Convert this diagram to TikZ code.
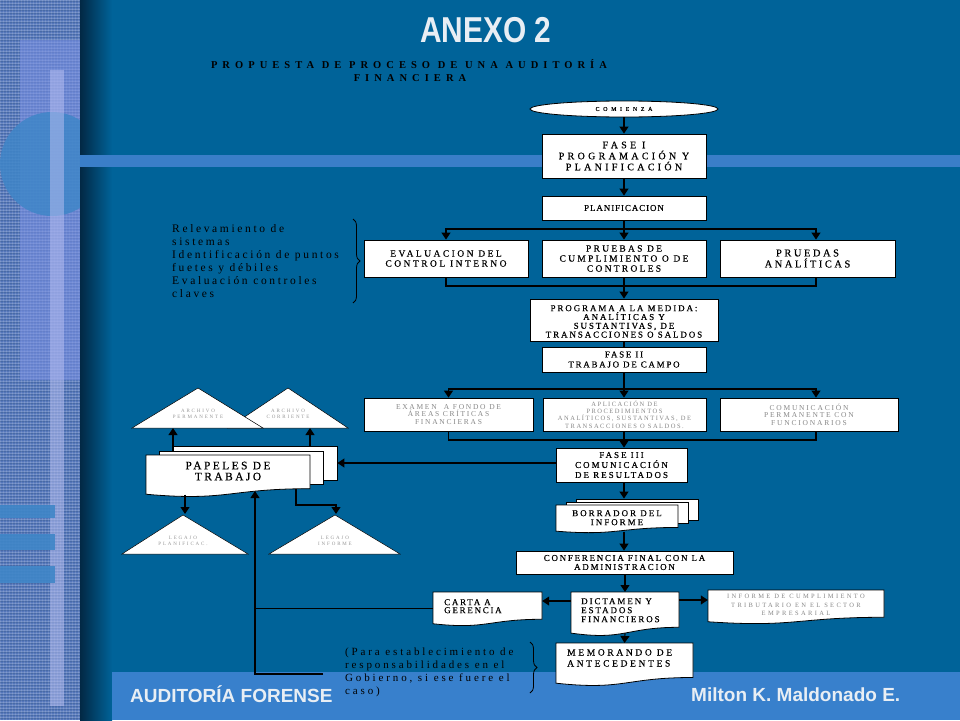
\documentclass[tikz,border=0pt]{standalone}
\usepackage{graphicx}
\usepackage{fontspec}
\setmainfont{Liberation Serif}
\newfontfamily\hfont{Liberation Sans}
\usetikzlibrary{arrows.meta,shapes.geometric,decorations.pathreplacing}
\definecolor{mainblue}{RGB}{0,99,153}
\definecolor{bandblue}{RGB}{58,126,200}
\definecolor{footblue}{RGB}{56,128,204}
\definecolor{shadowblue}{RGB}{2,40,68}
\definecolor{texblue}{RGB}{84,118,186}
\definecolor{rectblue}{RGB}{124,146,230}
\definecolor{circblue}{RGB}{63,134,200}
\definecolor{barlight}{RGB}{180,188,240}
\definecolor{titlewhite}{RGB}{232,238,244}
\definecolor{txtgray}{RGB}{135,135,135}
\definecolor{trigray}{RGB}{150,150,150}
\newcommand\txf[3]{\fontsize{#1}{#2}\selectfont\addfontfeatures{LetterSpace=#3}}
\newcommand\txb[3]{\fontsize{#1}{#2}\selectfont\addfontfeatures{LetterSpace=#3,FakeBold=0.4}}
\newcommand\docshape[5]{%
  \draw[doc] (#2,#3) -- (#4,#3) -- (#4,{#3+0.802*#5}) .. controls ({(#2+#4)/2},{#3+0.802*#5}) and ({(#2+#4)/2},{#3+1.1075*#5}) .. (#2,{#3+0.934*#5}) -- cycle;
  \node[inner sep=0pt, minimum width={(#4-#2)*1pt}, minimum height={0.933*#5*1pt}, anchor=north] (#1) at ({(#2+#4)/2},#3) {};
}
\begin{document}
\begin{tikzpicture}[x=1pt,y=-1pt,
  box/.style={draw=black, line width=0.8pt, fill=white, inner sep=0pt, align=center},
  doc/.style={draw=black, line width=0.8pt, fill=white},
  ln/.style={line width=1.1pt},
  arr/.style={line width=1.1pt, -{Triangle[width=9pt,length=7pt]}},
  tri/.style={draw=black, line width=0.5pt, fill=white},
  brc/.style={decorate, decoration={brace, amplitude=7pt}, line width=0.8pt},
  ttxt/.style={text=trigray, align=center, inner sep=0pt, font={\txf{5}{6}{37}}},
]
\useasboundingbox (0,0) rectangle (960,720);
\fill[mainblue] (0,0) rectangle (960,720);
% ---------- left textured strip
\begin{scope}
  \clip (0,0) rectangle (80,720);
  \fill[texblue] (0,0) rectangle (80,720);
  \foreach \i in {0,3,...,720} \draw[white, opacity=0.16, line width=0.7pt] (0,\i) -- (80,\i);
  \foreach \i in {0,3,...,80} \draw[white, opacity=0.13, line width=0.7pt] (\i,0) -- (\i,720);
  \foreach \i in {1.5,4.5,...,720} \draw[shadowblue, opacity=0.15, line width=0.6pt] (0,\i) -- (80,\i);
  \fill[rectblue, opacity=0.55] (20,40) rectangle (80,380);
  \fill[circblue, opacity=0.85] (52,164) circle [radius=52];
  \fill[barlight, opacity=0.55] (50,70) rectangle (64,706);
  \fill[circblue, opacity=0.9] (0,505) rectangle (55,518);
  \fill[circblue, opacity=0.9] (0,534) rectangle (55,550);
  \fill[circblue, opacity=0.9] (0,566) rectangle (55,583);
\end{scope}
\shade[left color=shadowblue, right color=mainblue] (80,0) rectangle (112,720);
\fill[bandblue] (80,155) rectangle (960,167);
\fill[footblue] (112,672) rectangle (960,720);
% ---------- titles
\node[anchor=base, inner sep=0pt, text=titlewhite, font={\hfont\bfseries\fontsize{36}{40}\selectfont}] (title) at (486,42) {\scalebox{0.83}[1]{ANEXO 2}};
\node[anchor=base, inner sep=0pt, font={\bfseries\txf{10.5}{12}{48}}] (sub1) at (409,68) {PROPUESTA DE PROCESO DE UNA AUDITORÍA};
\node[anchor=base, inner sep=0pt, font={\bfseries\txf{10.5}{12}{48}}] (sub2) at (410,81) {FINANCIERA};
\node[anchor=base west, inner sep=0pt, text=titlewhite, font={\hfont\bfseries\fontsize{19}{22}\selectfont}] (ft1) at (130,702) {AUDITORÍA FORENSE};
\node[anchor=base west, inner sep=0pt, text=titlewhite, font={\hfont\bfseries\fontsize{19}{22}\selectfont}] (ft2) at (691,701) {Milton K. Maldonado E.};
% ---------- flow: phase I
\node[box, ellipse, minimum width=188pt, minimum height=16pt, font={\txb{6}{7}{60}}] (start) at (624,109) {COMIENZA};
\node[box, minimum width=164pt, minimum height=44pt, font={\txb{10}{11}{33}}] (f1) at (624,156) {FASE I\\PROGRAMACIÓN Y\\PLANIFICACIÓN};
\node[box, minimum width=164pt, minimum height=24pt, font={\txb{9}{10}{10}}] (pl) at (624,208) {PLANIFICACION};
\node[box, minimum width=164pt, minimum height=37pt, font={\txb{9.5}{10}{26}}] (ev) at (446,258.5) {EVALUACION DEL\\CONTROL INTERNO};
\node[box, minimum width=164pt, minimum height=37pt, font={\txb{9.5}{10}{24}}] (pc) at (624,258.5) {PRUEBAS DE\\CUMPLIMIENTO O DE\\CONTROLES};
\node[box, minimum width=175pt, minimum height=37pt, font={\txb{10.5}{11}{24}}] (pa) at (807.5,258.5) {PRUEDAS\\ANALÍTICAS};
\node[box, minimum width=188pt, minimum height=42pt] (prog) at (624,320) {};
\begin{scope}
  \clip (530,299) rectangle (718,341);
  \node[anchor=north, inner sep=0pt, align=center, font={\txb{9}{8.8}{21}}] (progtxt) at (624,305) {PROGRAMA A LA MEDIDA:\\ANALÍTICAS Y\\SUSTANTIVAS, DE\\TRANSACCIONES O SALDOS};
\end{scope}
\node[box, minimum width=164pt, minimum height=25pt, font={\txb{9}{10}{19}}] (f2) at (624,359.5) {FASE II\\TRABAJO DE CAMPO};
% phase II row
\node[box, text=txtgray, minimum width=169pt, minimum height=33pt, font={\txf{7.5}{7.5}{23}}] (ex) at (448.5,414.5) {EXAMEN\ \ A FONDO DE\\ÁREAS CRÍTICAS\\FINANCIERAS};
\node[box, text=txtgray, minimum width=163pt, minimum height=33pt, font={\txf{6.5}{7.4}{23}}] (ap) at (624.5,414.5) {APLICACIÓN DE\\PROCEDIMIENTOS\\ANALÍTICOS, SUSTANTIVAS, DE\\TRANSACCIONES O SALDOS.};
\node[box, text=txtgray, minimum width=178pt, minimum height=33pt, font={\txf{7.5}{7.5}{24}}] (co) at (809,414.5) {COMUNICACIÓN\\PERMANENTE CON\\FUNCIONARIOS};
\node[box, minimum width=131pt, minimum height=34pt, font={\txb{9}{10}{22}}] (f3) at (621.5,465) {FASE III\\COMUNICACIÓN\\DE RESULTADOS};
% borrador stack
\node[box, minimum width=122pt, minimum height=21pt] (b3) at (637,509.5) {};
\node[box, minimum width=122pt, minimum height=21pt] (b2) at (627,512.5) {};
\docshape{bo}{556}{505}{678}{28}
\node[anchor=north, inner sep=0pt, align=center, font={\txb{9}{9}{22}}] (botxt) at (617,510) {BORRADOR DEL\\INFORME};
\node[box, minimum width=217pt, minimum height=23pt, font={\txb{9}{9}{19}}] (cf) at (624.5,562.5) {CONFERENCIA FINAL CON LA\\ADMINISTRACION};
% final documents
\docshape{ca}{433}{592}{542}{34}
\docshape{dc}{571}{592}{679}{44}
\docshape{inf}{708}{590}{884}{34}
\docshape{me}{556}{643}{693}{43}
\node[anchor=north west, inner sep=0pt, align=left, font={\txb{9}{8}{19}}] (catxt) at (444,599) {CARTA A\\GERENCIA};
\node[anchor=north west, inner sep=0pt, align=left, font={\txb{9}{9}{21}}] (dctxt) at (581,598) {DICTAMEN Y\\ESTADOS\\FINANCIEROS};
\node[anchor=north, inner sep=0pt, align=center, text=txtgray, font={\txf{6.5}{8.5}{36}}] (inftxt) at (796,594) {INFORME DE CUMPLIMIENTO\\TRIBUTARIO EN EL SECTOR\\EMPRESARIAL};
\node[anchor=north west, inner sep=0pt, align=left, font={\txb{9.5}{11}{28}}] (metxt) at (567,649) {MEMORANDO DE\\ANTECEDENTES};
% papeles de trabajo
\draw[tri] (228,428) -- (288,388) -- (348,428) -- cycle;
\draw[tri] (132,428) -- (198,388) -- (263,428) -- cycle;
\draw[tri] (122,554) -- (183,515) -- (248,554) -- cycle;
\draw[tri] (269,554) -- (335,515) -- (400,554) -- cycle;
\node[ttxt] (tatxt) at (198,414) {ARCHIVO\\PERMANENTE};
\node[ttxt] (tbtxt) at (288,414) {ARCHIVO\\CORRIENTE};
\node[ttxt] (tctxt) at (183,541) {LEGAJO\\PLANIFICAC.};
\node[ttxt] (tdtxt) at (335,541) {LEGAJO\\INFORME};
\node[box, minimum width=165pt, minimum height=34pt] (p3) at (254.5,463) {};
\node[box, minimum width=164pt, minimum height=33pt] (p2) at (241,467.5) {};
\docshape{p1}{146}{455}{310}{42}
\node[anchor=north, inner sep=0pt, align=center, font={\txb{11.5}{11}{21}}] (ptxt) at (228,461.5) {PAPELES DE\\TRABAJO};
% annotations
\draw[brc] (353,219) -- (353,303);
\node[anchor=north west, inner sep=0pt, align=left, font={\txf{11.5}{13}{23}}] (rel) at (172,224) {Relevamiento de\\sistemas\\Identificación de puntos\\fuetes y débiles\\Evaluación controles\\claves};
\draw[brc] (530,642) -- (530,693);
\node[anchor=north west, inner sep=0pt, align=left, font={\txf{11}{13}{26}}] (para) at (345,647.5) {(Para establecimiento de\\responsabilidades en el\\Gobierno, si ese fuere el\\caso)};
% ---------- connectors
\draw[arr] (start.south) -- (f1.north);
\draw[arr] (f1.south) -- (pl.north);
\coordinate (j1) at (624,229);
\draw[ln] (pl.south) -- (j1);
\draw[arr] (j1) -| (ev.north);
\draw[arr] (j1) -- (pc.north);
\draw[arr] (j1) -| ([xshift=8.5pt]pa.north);
\coordinate (j2) at (624,286);
\draw[ln] (ev.south) |- (j2) -| ([xshift=8.5pt]pa.south);
\draw[arr] (pc.south) -- (prog.north);
\draw[ln] (prog.south) -- (f2.north);
\coordinate (j3) at (624,389);
\draw[ln] (f2.south) -- (j3);
\draw[arr] (j3) -| (ex.north);
\draw[arr] (j3) -- (j3 |- ap.north);
\draw[arr] (j3) -| ([xshift=7pt]co.north);
\coordinate (j4) at (624,440);
\draw[ln] (ex.south) |- (j4) -| ([xshift=7pt]co.south);
\draw[ln] (j4 |- ap.south) -- (j4);
\draw[arr] (j4) -- (j4 |- f3.north);
\draw[arr] (f3.west |- p3.east) -- (p3.east);
\draw[arr] (j4 |- f3.south) -- (j4 |- b3.north);
\draw[arr] (j4 |- bo.south) -- (j4 |- cf.north);
\draw[arr] (dc.north |- cf.south) -- (dc.north);
\coordinate (dcL) at ([yshift=-9pt]dc.north west);
\coordinate (dcR) at ([yshift=-8pt]dc.north east);
\draw[arr] (dcL) -- (dcL -| ca.east);
\draw[arr] (dcR) -- (dcR -| inf.west);
\draw[arr] (dc.south) -- (me.north);
\coordinate (vb) at (255,674);
\coordinate (nt) at (323,674);
\coordinate (pin) at (255,491);
\draw[arr] (nt) -- (vb) -- (pin);
\draw[ln] (ca.west) -- (ca.west -| vb);
\coordinate (taIn) at (173,428);
\coordinate (tbIn) at (310,428);
\draw[arr] (p2.north -| taIn) -- (taIn);
\draw[arr] (p3.north -| tbIn) -- (tbIn);
\coordinate (tcIn) at (185,514);
\draw[arr] (p1.south -| tcIn) -- (tcIn);
\coordinate (tdIn) at (336,514);
\coordinate (p1o) at (296,489);
\draw[arr] (p1o) -- ++(0,16) -| (tdIn);
\end{tikzpicture}
\end{document}
